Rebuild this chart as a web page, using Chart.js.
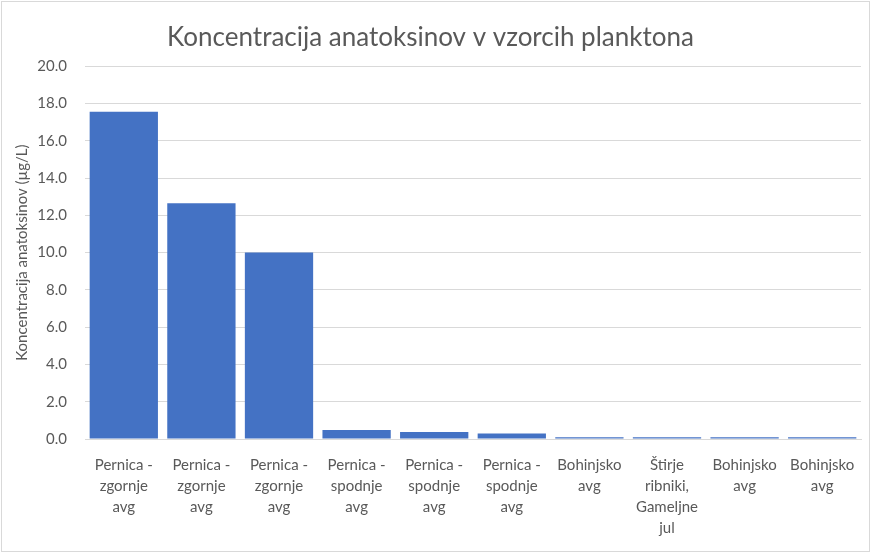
<!DOCTYPE html>
<html lang="sl">
<head>
  <meta charset="UTF-8" />
  <title>Koncentracija anatoksinov v vzorcih planktona</title>
  <script src="https://cdn.jsdelivr.net/npm/chart.js"></script>
  <style>
    html, body {
      margin: 0;
      padding: 0;
      background: #fff;
    }
    #wrap {
      position: relative;
      width: 871px;
      height: 553px;
    }
  </style>
</head>
<body>
  <div id="wrap">
    <canvas id="chart" width="871" height="553"></canvas>
  </div>

  <script>
    // categories (multi-line labels as in the sheet)
    const labels = [
      ['Pernica -', 'zgornje', 'avg'],
      ['Pernica -', 'zgornje', 'avg'],
      ['Pernica -', 'zgornje', 'avg'],
      ['Pernica -', 'spodnje', 'avg'],
      ['Pernica -', 'spodnje', 'avg'],
      ['Pernica -', 'spodnje', 'avg'],
      ['Bohinjsko', 'avg'],
      ['Štirje', 'ribniki,', 'Gameljne', 'jul'],
      ['Bohinjsko', 'avg'],
      ['Bohinjsko', 'avg']
    ];
    const values = [17.55, 12.65, 10.0, 0.48, 0.38, 0.29, 0.1, 0.1, 0.1, 0.1];

    const textColor = '#595959';
    const gridColor = '#d9d9d9';
    const fontFamily = 'Lato, "Open Sans", sans-serif';

    // white background + light frame like the Excel chart area
    const frame = {
      id: 'frame',
      beforeDraw(chart) {
        const c = chart.ctx;
        c.save();
        c.fillStyle = '#fff';
        c.fillRect(0, 0, chart.width, chart.height);
        c.strokeStyle = gridColor;
        c.lineWidth = 1;
        c.strokeRect(1.5, 1.5, chart.width - 3, chart.height - 3);
        c.restore();
      }
    };

    new Chart(document.getElementById('chart'), {
      type: 'bar',
      data: {
        labels: labels,
        datasets: [{
          label: 'Koncentracija',
          data: values,
          backgroundColor: '#4472C4',
          borderWidth: 0,
          barPercentage: 0.88,
          categoryPercentage: 1.0
        }]
      },
      options: {
        responsive: false,
        animation: false,
        layout: { padding: { left: 0, right: 10, top: 0, bottom: 0 } },
        plugins: {
          legend: { display: false },
          tooltip: { enabled: false },
          title: {
            display: true,
            text: 'Koncentracija anatoksinov v vzorcih planktona',
            color: textColor,
            font: { family: fontFamily, size: 26, weight: 'normal' },
            padding: { top: 22, bottom: 13 }
          }
        },
        scales: {
          y: {
            min: 0,
            max: 20,
            ticks: {
              stepSize: 2,
              color: textColor,
              font: { family: fontFamily, size: 15 },
              padding: 18,
              callback: v => v.toFixed(1)
            },
            grid: { color: gridColor, drawTicks: false },
            border: { display: false },
            title: {
              display: true,
              text: 'Koncentracija anatoksinov (µg/L)',
              color: textColor,
              font: { family: fontFamily, size: 15 },
              padding: { top: 13, bottom: 0 }
            },
            afterFit(scale) { scale.width = 85; }
          },
          x: {
            ticks: {
              color: textColor,
              font: { family: fontFamily, size: 15, lineHeight: 1.4 },
              padding: 8,
              maxRotation: 0,
              autoSkip: false
            },
            grid: { display: false },
            border: { color: gridColor },
            afterFit(scale) { scale.height = 114; }
          }
        }
      },
      plugins: [frame]
    });
  </script>
</body>
</html>
